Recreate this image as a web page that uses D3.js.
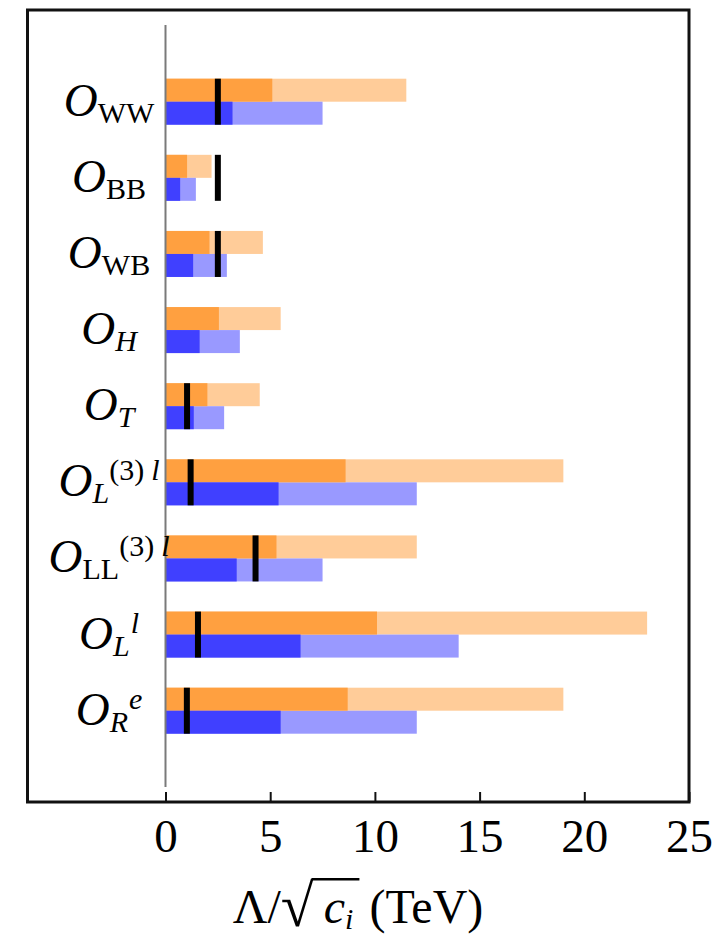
<!DOCTYPE html>
<html>
<head>
<meta charset="utf-8">
<script src="https://cdn.jsdelivr.net/npm/d3@7"></script>
<style>
  html, body { margin: 0; padding: 0; background: #fff; }
  svg { display: block; }
  text { font-family: "Liberation Serif", "Times New Roman", serif; fill: #000; }
</style>
</head>
<body>
<svg id="chart" width="728" height="940"></svg>
<script>
// Operators, top to bottom
const operators = ["WW", "BB", "WB", "H", "T", "L3l", "LL3l", "Ll", "Re"];
// Label pieces for each operator: O_{sub}^{sup}
const subText   = ["WW", "BB", "WB", "H", "T", "L", "LL", "L", "R"];
const subItalic = [false, false, false, true, true, true, false, true, true];
const supRoman  = ["", "", "", "", "", "(3)", "(3)", "", ""];
const supItalic = ["", "", "", "", "", "l", "l", "l", "e"];

// Reach in Λ/√c_i (TeV): orange row (upper) and blue row (lower)
const orangeDark  = [5.1, 1.03, 2.1, 2.55, 2.0, 8.6, 5.3, 10.1, 8.7];
const orangeLight = [11.5, 2.2, 4.65, 5.5, 4.5, 19.0, 12.0, 23.0, 19.0];
const blueDark    = [3.2, 0.7, 1.32, 1.63, 1.35, 5.4, 3.4, 6.45, 5.5];
const blueLight   = [7.5, 1.45, 2.93, 3.55, 2.8, 12.0, 7.5, 14.0, 12.0];
// Current bound (black marker); null where none is shown
const currentBound = [2.5, 2.5, 2.5, null, 1.03, 1.2, 4.3, 1.55, 1.02];

const xTicks = [0, 5, 10, 15, 20, 25];

const colors = {
  orangeLight: "#ffcc99",
  orangeDark:  "#ffa040",
  blueLight:   "#9999ff",
  blueDark:    "#4040ff"
};

const FONT = "'Liberation Serif', 'Times New Roman', serif";
const svg = d3.select("#chart");

const frame = { left: 27.5, right: 689, top: 10, bottom: 802 };

const x = d3.scaleLinear().domain([0, 25]).range([165.5, 689]);

const pitch = 76.125;
const firstCenter = 101.7;
const y = d3.scaleBand()
  .domain(operators)
  .range([firstCenter - pitch / 2, firstCenter - pitch / 2 + pitch * operators.length])
  .padding(0);

const rowH = 23;
const row = d3.scaleBand().domain(["orange", "blue"]).range([-rowH, rowH]).padding(0);

const rows = operators.map((op, i) => ({
  op,
  center: y(op) + y.bandwidth() / 2,
  bars: [
    { key: "orange", light: orangeLight[i], dark: orangeDark[i], cl: colors.orangeLight, cd: colors.orangeDark },
    { key: "blue",   light: blueLight[i],   dark: blueDark[i],   cl: colors.blueLight,   cd: colors.blueDark }
  ],
  bound: currentBound[i]
}));

// Bars
const groups = svg.append("g").selectAll("g.op")
  .data(rows).join("g")
  .attr("class", "op")
  .attr("transform", d => `translate(0,${d.center})`);

groups.selectAll("rect.light").data(d => d.bars).join("rect")
  .attr("class", "light")
  .attr("x", x(0))
  .attr("y", b => row(b.key))
  .attr("width", b => x(b.light) - x(0))
  .attr("height", row.bandwidth())
  .attr("fill", b => b.cl);

groups.selectAll("rect.dark").data(d => d.bars).join("rect")
  .attr("class", "dark")
  .attr("x", x(0))
  .attr("y", b => row(b.key))
  .attr("width", b => x(b.dark) - x(0))
  .attr("height", row.bandwidth())
  .attr("fill", b => b.cd);

// Current-bound markers
groups.filter(d => d.bound != null).append("rect")
  .attr("x", d => x(d.bound) - 3)
  .attr("y", -rowH)
  .attr("width", 6)
  .attr("height", 2 * rowH)
  .attr("fill", "#000");

// Zero line
svg.append("line")
  .attr("x1", x(0)).attr("x2", x(0))
  .attr("y1", 25).attr("y2", 787)
  .attr("stroke", "#7a7a7a").attr("stroke-width", 2);

// Frame
svg.append("rect")
  .attr("x", frame.left).attr("y", frame.top)
  .attr("width", frame.right - frame.left)
  .attr("height", frame.bottom - frame.top)
  .attr("fill", "none").attr("stroke", "#111").attr("stroke-width", 3);

// Bottom axis with inward ticks
const axis = d3.axisBottom(x)
  .tickValues(xTicks)
  .tickFormat(d3.format("d"))
  .tickSizeInner(-10)
  .tickSizeOuter(0)
  .tickPadding(17);

const ax = svg.append("g")
  .attr("transform", `translate(0,${frame.bottom})`)
  .attr("font-family", FONT)
  .call(axis);
ax.select(".domain").remove();
ax.selectAll(".tick line").attr("stroke", "#111").attr("stroke-width", 2);
ax.selectAll(".tick text")
  .style("font-family", FONT)
  .attr("font-size", 47)
  .attr("fill", "#000");

// Operator labels
const labels = svg.append("g").selectAll("text")
  .data(rows).join("text")
  .attr("x", 109)
  .attr("y", d => d.center + 14)
  .attr("text-anchor", "middle");

labels.each(function(d, i) {
  const t = d3.select(this);
  t.append("tspan").attr("font-size", 47).attr("font-style", "italic").text("O");
  t.append("tspan").attr("font-size", 30).attr("dy", 7)
    .attr("font-style", subItalic[i] ? "italic" : "normal")
    .text(subText[i]);
  let first = true;
  if (supRoman[i]) {
    t.append("tspan").attr("font-size", 30).attr("dy", -23).attr("font-style", "normal").text(supRoman[i]);
    first = false;
  }
  if (supItalic[i]) {
    t.append("tspan").attr("font-size", 30).attr("dy", first ? -23 : 0)
      .attr("dx", first ? 1 : 7)
      .attr("font-style", "italic").text(supItalic[i]);
  }
});

// Axis title: Λ/√c_i (TeV)
const titleBase = 923;
const radSize = 60, radDrop = 3;
const title = svg.append("text")
  .attr("x", 358).attr("y", titleBase)
  .attr("text-anchor", "middle")
  .attr("font-size", 48);
title.append("tspan").text("Λ/");
title.append("tspan").attr("font-size", radSize).attr("dy", radDrop).text("√");
title.append("tspan").attr("font-style", "italic").attr("dy", -radDrop).attr("dx", 10).text("c");
title.append("tspan").attr("font-style", "italic").attr("font-size", 30).attr("dy", 6).text("i");
title.append("tspan").attr("dy", -6).attr("dx", 16).text("(TeV)");

// Overline of the radical, spanning c_i, joined to the top of the √ glyph
const tn = title.node();
const ctx = document.createElement("canvas").getContext("2d");
ctx.font = `${radSize}px 'Liberation Serif'`;
const rm = ctx.measureText("√");
const radStart = tn.getStartPositionOfChar(2);
const iExt = tn.getExtentOfChar(4);
const lineY = titleBase + radDrop - rm.actualBoundingBoxAscent + 1.2;
svg.append("line")
  .attr("x1", radStart.x + rm.actualBoundingBoxRight - 2)
  .attr("x2", iExt.x + iExt.width + 6)
  .attr("y1", lineY)
  .attr("y2", lineY)
  .attr("stroke", "#000").attr("stroke-width", 2.4);
</script>
</body>
</html>
